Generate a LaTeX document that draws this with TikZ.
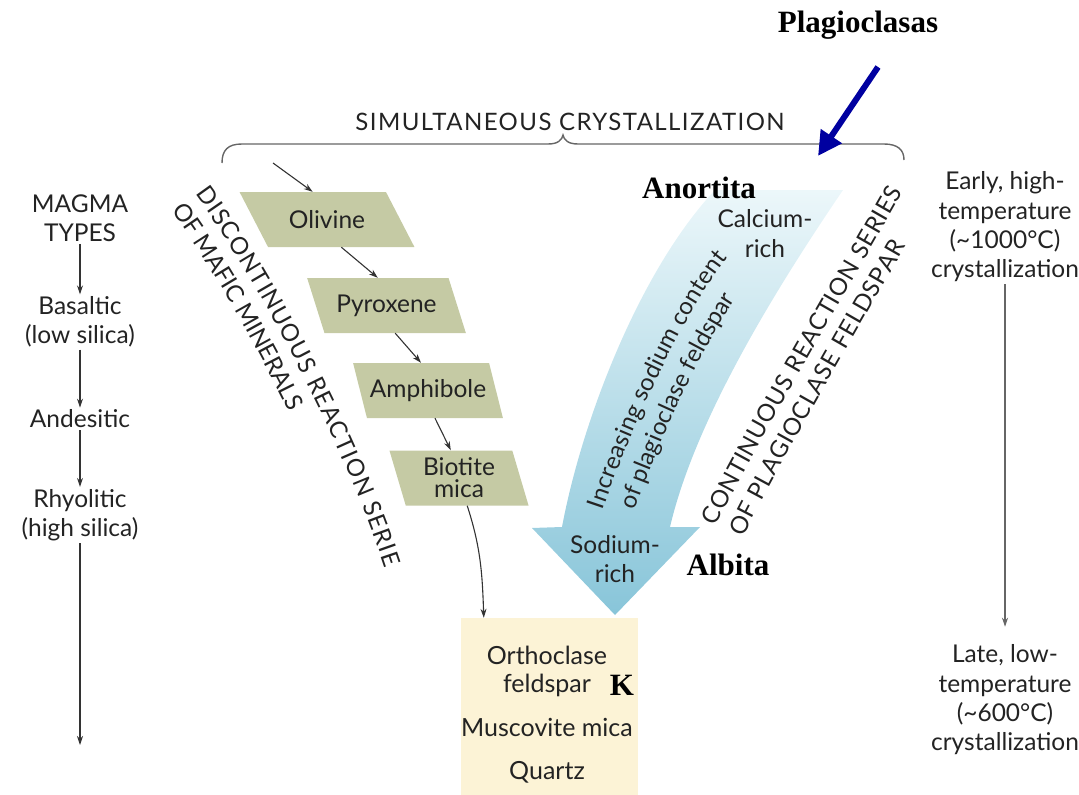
\documentclass[tikz,border=0pt]{standalone}
\usepackage{fontspec}
\setmainfont{Lato}
\newfontfamily\spacedfont[LetterSpace=6]{Lato}
\newfontfamily\tagfont{Liberation Serif}
\usetikzlibrary{shapes.geometric, arrows.meta, decorations.text}

\definecolor{sage}{RGB}{197,202,164}
\definecolor{cream}{RGB}{252,243,214}
\definecolor{inktext}{RGB}{35,35,35}
\definecolor{navyarrow}{RGB}{0,0,160}
\definecolor{icetop}{RGB}{236,247,250}
\definecolor{icebottom}{RGB}{136,197,217}

\newcommand{\bodysize}{\fontsize{24.5}{29.3}\selectfont}
\newcommand{\curvesize}{\fontsize{24}{24}\selectfont}

\begin{document}
\begin{tikzpicture}[
  x=1pt, y=1pt,
  font=\bodysize, text=inktext,
  mineral/.style={trapezium, trapezium stretches=true, fill=sage, minimum height=55pt, inner sep=1pt, align=center},
  column/.style={align=center, inner sep=2pt},
  tag/.style={font=\tagfont\bfseries\fontsize{31}{31}\selectfont, text=black, inner sep=0pt},
  arrow/.style={-{Stealth[length=9pt, width=6pt]}, line width=1.1pt, draw=black!80},
  longarrow/.style={arrow, draw=black!60},
  brace/.style={draw=black!60, line width=1.4pt},
  curvetext/.style={decorate, decoration={text along path, text align={fit to path}, text color=inktext, text={#1}}},
  undertext/.style n args={4}{decorate, decoration={text along path, raise=#2, text align={fit to path, left indent=#3, right indent=#4}, text color=inktext, text={#1}}}
]
\useasboundingbox (0,0) rectangle (1079,-795);

% plagioclase arrow (shaded body)
\shade[top color=icetop, bottom color=icebottom]
  (715,-190) -- (843,-190) .. controls (775,-290) and (695,-420) .. (670,-527)
  -- (700,-527) -- (615,-615) -- (532,-528) -- (562,-527)
  .. controls (582,-420) and (640,-270) .. (715,-190) -- cycle;

% brace
\draw[brace] (222,-163) .. controls (222,-150) and (228,-144) .. (242,-144) -- (548,-144)
  .. controls (558,-144) and (562,-140) .. (563,-135) .. controls (564,-140) and (568,-144) .. (578,-144)
  -- (884,-144) .. controls (898,-144) and (904,-150) .. (904,-160);
\node[anchor=base, inner sep=0pt, font=\spacedfont\fontsize{24}{24}\selectfont] (simul) at (570,-130) {SIMULTANEOUS CRYSTALLIZATION};

% magma types
\node[column] (magma) at (80,-218) {MAGMA\\TYPES};
\node[column] (basaltic) at (80,-322) {Basaltic\\(low silica)};
\node[column] (andesitic) at (80,-419) {Andesitic};
\node[column] (rhyolitic) at (80,-515) {Rhyolitic\\(high silica)};
\coordinate (magmaend) at (80,-745);
\draw[arrow] (magma) -- (basaltic);
\draw[arrow] (basaltic) -- (andesitic);
\draw[arrow] (andesitic) -- (rhyolitic);
\draw[arrow] (rhyolitic) -- (magmaend);

% temperature
\node[column] (early) at (1005,-227) {Early, high-\\temperature\\(\textasciitilde1000°C)\\crystallization};
\node[column] (late) at (1005,-700) {Late, low-\\temperature\\(\textasciitilde600°C)\\crystallization};
\draw[longarrow] (early) -- ([yshift=16pt]late.north);

% mafic minerals
\node[mineral, trapezium left angle=133, trapezium right angle=47, minimum width=175pt] (olivine) at (327,-219.5) {Olivine};
\node[mineral, trapezium left angle=121, trapezium right angle=59, minimum width=159pt] (pyroxene) at (386.5,-305.5) {Pyroxene};
\node[mineral, trapezium left angle=119, trapezium right angle=61, minimum width=150pt] (amphibole) at (428,-390.5) {Amphibole};
\node[mineral, trapezium left angle=105, trapezium right angle=75, minimum width=140pt, font=\fontsize{24.5}{22}\selectfont] (biotite) at (459,-478) {Biotite\\mica};

% felsic box
\node[fill=cream, minimum width=177pt, minimum height=177pt, inner sep=0pt] (feldbox) at (549.5,-706.5) {};
\node[align=center, font=\fontsize{25}{28}\selectfont] (felsic) at (547,-715) {Orthoclase\\feldspar\\[16pt]Muscovite mica\\[15pt]Quartz};

\coordinate (feed) at (273,-163);
\draw[arrow] (feed) -- (olivine.top side);
\draw[arrow] (olivine.bottom side) -- (pyroxene.top side);
\draw[arrow] (pyroxene.bottom side) -- (amphibole.top side);
\draw[arrow] (amphibole.bottom side) -- (biotite.top side);
\draw[arrow] (biotite.bottom side) to[out=-72, in=92] ([xshift=23pt]feldbox.north west);

% texts in the plagioclase arrow
\node[column] (calcium) at (765,-233.5) {Calcium-\\rich};
\node[column] (sodium) at (615,-559) {Sodium-\\rich};
\path[curvetext={|\curvesize|Increasing sodium content}]
  (603,-510) .. controls (623,-450) and (678,-320) .. (728,-258);
\path[undertext={|\curvesize|of plagioclase feldspar}{-30pt}{10pt}{31pt}]
  (603,-510) .. controls (623,-450) and (678,-320) .. (728,-258);

% series captions
\path[curvetext={|\curvesize|DISCONTINUOUS REACTION SERIE}]
  (195,-194) .. controls (257,-278) and (342,-438) .. (385,-568);
\path[undertext={|\curvesize|OF MAFIC MINERALS}{-29pt}{0pt}{185pt}]
  (195,-194) .. controls (257,-278) and (342,-438) .. (385,-568);
\path[curvetext={|\curvesize|CONTINUOUS REACTION SERIES}]
  (716,-527) .. controls (748,-459) and (848,-289) .. (903,-192);
\path[undertext={|\curvesize|OF PLAGIOCLASE FELDSPAR}{-29pt}{3pt}{45pt}]
  (716,-527) .. controls (748,-459) and (848,-289) .. (903,-192);

% added labels
\node[tag, anchor=base] (plag) at (858,-32) {Plagioclasas};
\node[tag, anchor=base] (anortita) at (699,-198) {Anortita};
\node[tag, anchor=base] (albita) at (728,-575) {Albita};
\node[tag, anchor=base] (potassium) at (622,-695) {K};
\coordinate (plagfrom) at (878,-67);
\coordinate (plagto) at (818,-156);
\draw[navyarrow, line width=6pt, -{Triangle[length=24pt, width=24pt]}] (plagfrom) -- (plagto);
\end{tikzpicture}
\end{document}
